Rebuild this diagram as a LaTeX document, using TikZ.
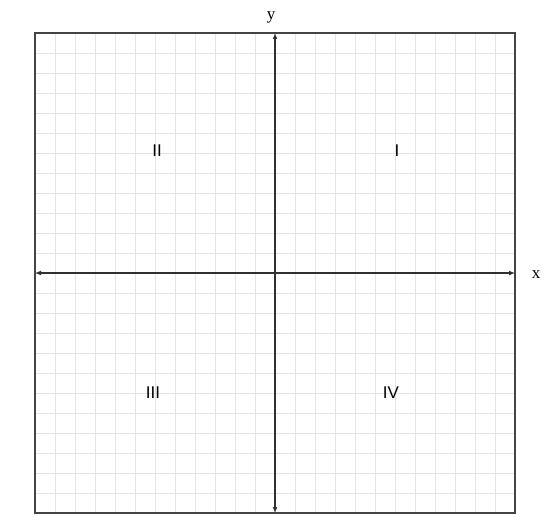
\documentclass[tikz,border=0pt]{standalone}
\usepackage{fontspec}
\newfontfamily\quadfont{Liberation Sans}
\setmainfont{Liberation Serif}
\usetikzlibrary{arrows.meta}
\definecolor{gridgray}{HTML}{E4E4E4}
\definecolor{framegray}{HTML}{444444}
\definecolor{axisgray}{HTML}{303030}
\tikzset{
  gridline/.style={draw=gridgray, line width=0.9pt},
  framebox/.style={draw=framegray, line width=1.6pt},
  axisline/.style={draw=axisgray, line width=1.3pt, {Latex[length=6pt,width=5pt]}-{Latex[length=6pt,width=5pt]}},
  quadlabel/.style={font=\quadfont\fontsize{17}{19}\selectfont, inner sep=0pt},
  axislabel/.style={font=\fontsize{17}{19}\selectfont, inner sep=0pt}
}
\begin{document}
\begin{tikzpicture}[x=1pt,y=-1pt]
\useasboundingbox[fill=white] (0,0) rectangle (548,524);
% grid
\foreach \i in {1,...,23} {
  \draw[gridline] ({35+20*\i},33) -- ({35+20*\i},513);
  \draw[gridline] (35,{33+20*\i}) -- (515,{33+20*\i});
}
% frame
\draw[framebox] (35,33) rectangle (515,513);
% axes
\coordinate (xl) at (35,273);
\coordinate (xr) at (515,273);
\coordinate (yt) at (275,33);
\coordinate (yb) at (275,513);
\draw[axisline] (xl) -- (xr);
\draw[axisline] (yb) -- (yt);
% labels
\node[axislabel] (ylab) at (271,17) {y};
\node[axislabel] (xlab) at (536,275) {x};
\node[quadlabel] (q1) at (397,151) {I};
\node[quadlabel] (q2) at (157,151) {II};
\node[quadlabel] (q3) at (153,393) {III};
\node[quadlabel] (q4) at (391,393) {IV};
\end{tikzpicture}
\end{document}
